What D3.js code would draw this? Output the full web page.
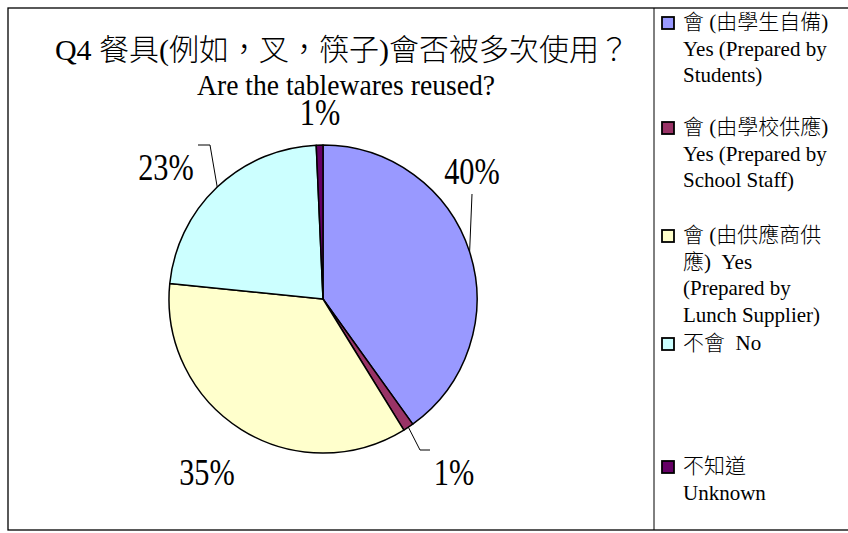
<!DOCTYPE html>
<html lang="zh-Hant">
<head>
<meta charset="utf-8">
<title>Q4 餐具會否被多次使用</title>
<style>
    body { margin: 0; background: #fff; }
    svg text { font-family: "Liberation Serif", "Noto Sans CJK TC", serif; fill: #000; white-space: pre; }
</style>
<script src="https://cdn.jsdelivr.net/npm/d3@7"></script>
</head>
<body>
<div id="chart"></div>
<script>
// data (clockwise from 12 o'clock)
var categories = ["yesStudents", "yesSchool", "yesSupplier", "no", "unknown"];
var values = [40.1, 1.1, 35.4, 22.7, 0.7];
var colors = ["#9999ff", "#993366", "#ffffcc", "#ccffff", "#660066"];
var legendLines = [
    ["會 (由學生自備)", "Yes (Prepared by", "Students)"],
    ["會 (由學校供應)", "Yes (Prepared by", "School Staff)"],
    ["會 (由供應商供", "應)  Yes", "(Prepared by", "Lunch Supplier)"],
    ["不會  No"],
    ["不知道", "Unknown"]
];
var titleLines = ["Q4 餐具(例如，叉，筷子)會否被多次使用？", "Are the tablewares reused?"];

// layout
var W = 848, H = 533;
var cx = 323, cy = 299, radius = 154;
// label baseline positions relative to the pie centre
var labelPos = [[149, -115], [131, 186], [-116, 186], [-157, -119], [-3, -174]];
// leader line elbows relative to pie centre (null = no leader)
var leaders = [[[149, -105]], [[97, 151], [107, 151]], null, [[-113, -154], [-125, -154]], null];
var legendTop = [29, 134, 242, 350, 473];

var svg = d3.select("#chart").append("svg")
    .attr("width", W)
    .attr("height", H);

// frame
svg.append("rect")
    .attr("x", 8).attr("y", 8)
    .attr("width", W + 10).attr("height", 522)
    .attr("fill", "none").attr("stroke", "#000").attr("stroke-width", 1.3);
svg.append("line")
    .attr("x1", 654).attr("x2", 654).attr("y1", 8).attr("y2", 530)
    .attr("stroke", "#000").attr("stroke-width", 1);

// title
svg.append("text")
    .attr("x", 342).attr("y", 60)
    .attr("text-anchor", "middle")
    .style("font-size", "30px")
    .style("font-weight", 300)
    .text(titleLines[0]);
svg.append("text")
    .attr("transform", "translate(346,95) scale(0.92,1)")
    .attr("text-anchor", "middle")
    .style("font-size", "30px")
    .text(titleLines[1]);

var data = categories.map(function(c, i) { return {key: c, value: values[i], color: colors[i]}; });

var pie = d3.pie().sort(null).value(function(d) { return d.value; });
var arc = d3.arc().innerRadius(0).outerRadius(radius);
var arcs = pie(data);

var g = svg.append("g").attr("transform", "translate(" + cx + "," + cy + ")");

g.selectAll("path.slice")
    .data(arcs)
    .enter().append("path")
    .attr("class", "slice")
    .attr("d", arc)
    .attr("fill", function(d) { return d.data.color; })
    .attr("stroke", "#000")
    .attr("stroke-width", 1.5)
    .attr("stroke-linejoin", "round");

// leader lines, starting on the arc edge at the slice's mid angle
arcs.forEach(function(d, i) {
    if (!leaders[i]) return;
    var a = (d.startAngle + d.endAngle) / 2;
    var pts = [[radius * Math.sin(a), -radius * Math.cos(a)]].concat(leaders[i]);
    g.append("path")
        .attr("d", d3.line()(pts))
        .attr("fill", "none")
        .attr("stroke", "#000")
        .attr("stroke-width", 1);
});

// percentage labels
g.selectAll("text.pct")
    .data(arcs)
    .enter().append("text")
    .attr("class", "pct")
    .attr("transform", function(d, i) {
        return "translate(" + labelPos[i][0] + "," + labelPos[i][1] + ") scale(0.82,1)";
    })
    .attr("text-anchor", "middle")
    .style("font-size", "37px")
    .text(function(d) { return Math.round(d.data.value) + "%"; });

// legend
var legend = svg.append("g");
data.forEach(function(d, i) {
    var y0 = legendTop[i];
    legend.append("rect")
        .attr("x", 662).attr("y", y0 - 12)
        .attr("width", 12).attr("height", 12)
        .attr("fill", d.color)
        .attr("stroke", "#000").attr("stroke-width", 1.8);
    legendLines[i].forEach(function(line, j) {
        legend.append("text")
            .attr("x", 683)
            .attr("y", y0 + j * 26.5)
            .style("font-size", "21px")
            .style("font-weight", 300)
            .text(line);
    });
});
</script>
</body>
</html>
